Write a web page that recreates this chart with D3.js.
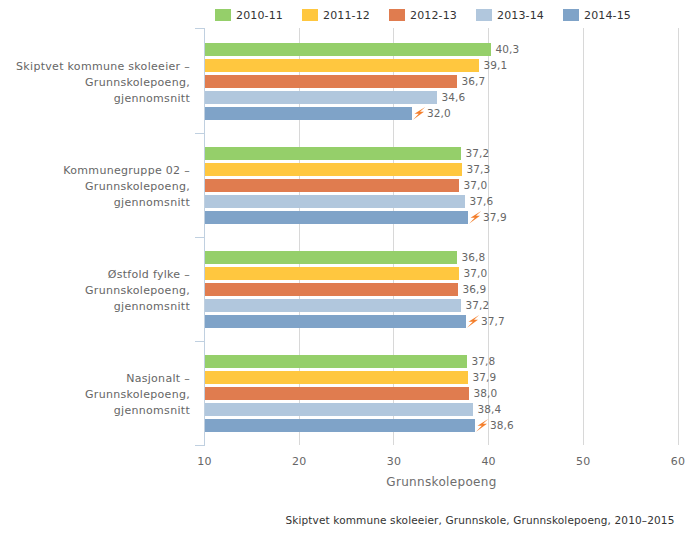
<!DOCTYPE html>
<html><head><meta charset="utf-8">
<script src="https://cdnjs.cloudflare.com/ajax/libs/d3/7.8.5/d3.min.js"></script>
<style>
html,body{margin:0;padding:0;background:#fff}
svg{display:block}
text{font-family:"DejaVu Sans",sans-serif}
</style></head><body>
<svg id="c" width="700" height="542"></svg>
<script>
const categories=[["Skiptvet kommune skoleeier –","Grunnskolepoeng,","gjennomsnitt"],["Kommunegruppe 02 –","Grunnskolepoeng,","gjennomsnitt"],["Østfold fylke –","Grunnskolepoeng,","gjennomsnitt"],["Nasjonalt –","Grunnskolepoeng,","gjennomsnitt"]];
const seriesNames=["2010-11","2011-12","2012-13","2013-14","2014-15"];
const colors=["#95cf6a","#ffc73f","#e07c4f","#b1c7dd","#7fa3c8"];
const s201011=[40.3,37.2,36.8,37.8];
const s201112=[39.1,37.3,37.0,37.9];
const s201213=[36.7,37.0,36.9,38.0];
const s201314=[34.6,37.6,37.2,38.4];
const s201415=[32.0,37.9,37.7,38.6];
const seriesValues=[s201011,s201112,s201213,s201314,s201415];
const xTicks=[10,20,30,40,50,60];
const axisTitle="Grunnskolepoeng";
const source="Skiptvet kommune skoleeier, Grunnskole, Grunnskolepoeng, 2010–2015";

const svg=d3.select("#c");
const x=d3.scaleLinear().domain([10,60]).range([204.5,678]);
const y0=d3.scaleBand().domain(d3.range(categories.length)).range([29,445]);
const y1=d3.scaleBand().domain(d3.range(seriesNames.length)).range([14,91]).paddingInner(3/16).paddingOuter(0);
const fmt=v=>d3.format(".1f")(v).replace(".",",");
const gridX=v=>Math.floor(x(v));
const xEnd=v=>Math.floor(x(v)-0.3);

// grid
svg.append("g").selectAll("line").data(xTicks.slice(1)).join("line")
 .attr("x1",d=>gridX(d)+.5).attr("x2",d=>gridX(d)+.5)
 .attr("y1",28).attr("y2",445).attr("stroke","#d8d8d8").attr("stroke-width",1);

// bars
const groups=svg.append("g").selectAll("g").data(categories).join("g")
 .attr("transform",(d,i)=>`translate(0,${y0(i)})`);
groups.each(function(c,ci){
 const g=d3.select(this);
 seriesNames.forEach((s,si)=>{
  const v=seriesValues[si][ci];
  const yy=y1(si);
  g.append("rect").attr("x",Math.ceil(x(10))).attr("y",yy).attr("width",xEnd(v)-Math.ceil(x(10))).attr("height",y1.bandwidth()).attr("fill",colors[si]);
  const flash=si===4;
  if(flash){
   g.append("path").attr("transform",`translate(${xEnd(v)},${yy})`)
    .attr("d","M13.2,0 L2.5,6.8 L6.8,6.8 L1,12.8 L12,4.8 L8,4.8 Z").attr("fill","#f47f2c");
  }
  g.append("text").attr("x",xEnd(v)+(flash?15:4.5)).attr("y",yy+y1.bandwidth()/2+3.5)
   .attr("font-size",10.5).attr("letter-spacing",0.1).attr("fill","#666").text(fmt(v));
 });
 c.forEach((t,li)=>{
  g.append("text").attr("x",190).attr("y",41+li*16).attr("text-anchor","end")
   .attr("font-size",11).attr("letter-spacing",0.3).attr("fill","#666").text(t);
 });
});

// y axis
const axisC="#c0d0e0";
svg.append("line").attr("x1",204.5).attr("x2",204.5).attr("y1",28).attr("y2",446).attr("stroke",axisC);
const yt=d3.range(categories.length+1).map(i=>i===0?y0(0)-1:(i<categories.length?y0(i):y0.range()[1]));
svg.append("g").selectAll("line").data(yt).join("line")
 .attr("x1",195).attr("x2",204.5).attr("y1",d=>d+.5).attr("y2",d=>d+.5).attr("stroke",axisC);

// x labels
svg.append("g").selectAll("text").data(xTicks).join("text")
 .attr("x",d=>x(d)).attr("y",465).attr("text-anchor","middle").attr("font-size",11).attr("letter-spacing",0.2).attr("fill","#666").text(d=>d);
svg.append("text").attr("x",441.5).attr("y",486).attr("text-anchor","middle").attr("font-size",12).attr("letter-spacing",0.33).attr("fill","#6d6d6d").text(axisTitle);
svg.append("text").attr("x",674.5).attr("y",524).attr("text-anchor","end").attr("font-size",10.5).attr("letter-spacing",0.14).attr("fill","#333").text(source);

// legend
const lx=d3.scalePoint().domain(seriesNames).range([215,563]);
const leg=svg.append("g").selectAll("g").data(seriesNames).join("g").attr("transform",d=>`translate(${lx(d)},0)`);
leg.append("rect").attr("y",9).attr("width",16).attr("height",12).attr("fill",(d,i)=>colors[i]);
leg.append("text").attr("x",21).attr("y",19).attr("font-size",11).attr("letter-spacing",0.15).attr("fill","#333").text(d=>d);
</script></body></html>
